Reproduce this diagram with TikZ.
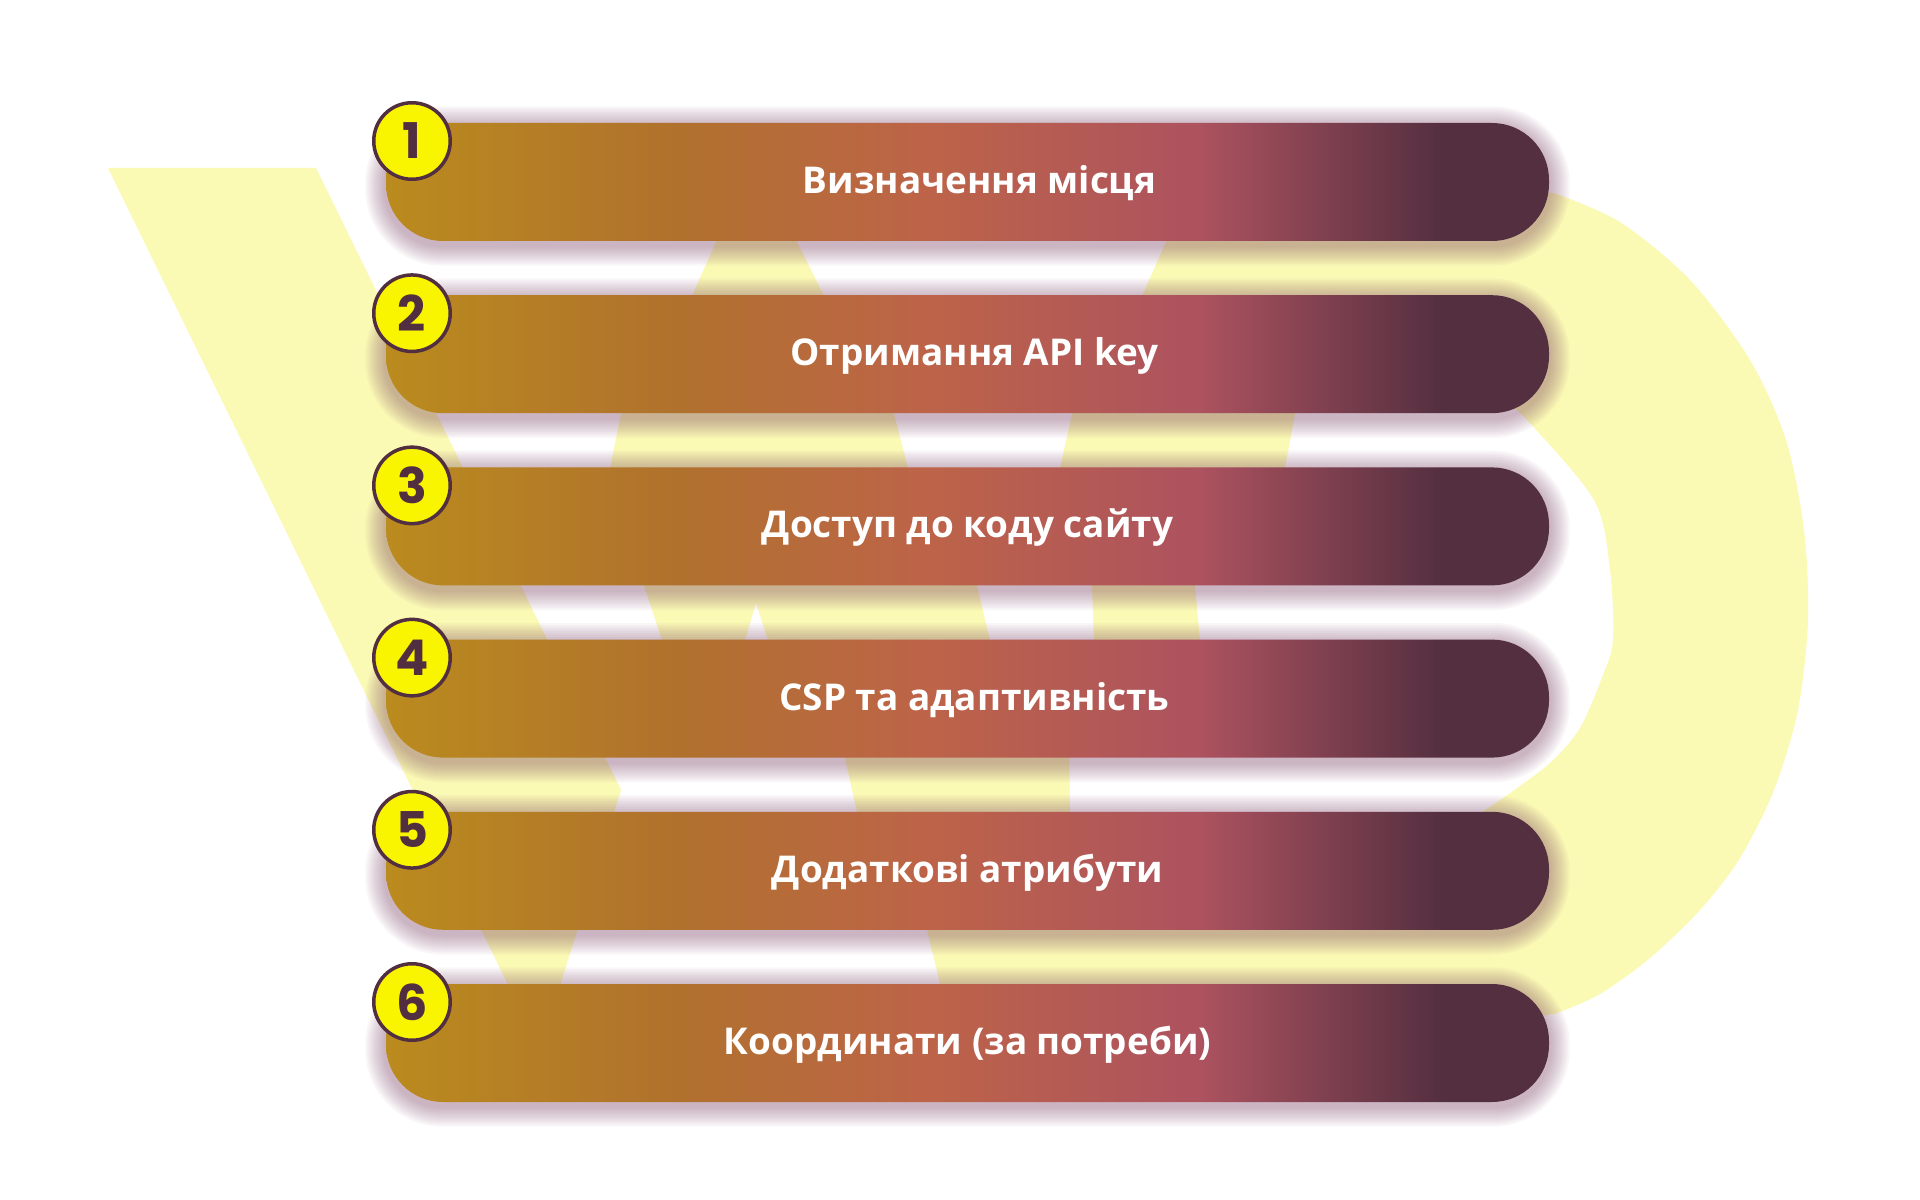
\documentclass[tikz,border=0pt]{standalone}
\usepackage{fontspec}
\setmainfont{Open Sans}
\newfontfamily\numfont{Poppins}

\definecolor{wmyellow}{RGB}{251,250,181}
\definecolor{ballfill}{RGB}{249,244,0}
\definecolor{plum}{RGB}{82,47,64}
\definecolor{glowc}{RGB}{120,60,95}
\definecolor{bc0}{RGB}{186,139,30}
\definecolor{bc1}{RGB}{176,113,45}
\definecolor{bc2}{RGB}{189,100,72}
\definecolor{bc3}{RGB}{173,82,95}
\definecolor{bc4}{RGB}{83,47,64}

\pgfdeclarehorizontalshading{barshade}{100bp}{color(0bp)=(bc0); color(25bp)=(bc0); color(37.5bp)=(bc1); color(48bp)=(bc2); color(60bp)=(bc3); color(70.5bp)=(bc4); color(75bp)=(bc4); color(100bp)=(bc4)}

\pgfdeclarelayer{wm}
\pgfdeclarelayer{glow}
\pgfsetlayers{wm,glow,main}

\tikzset{
  stepbar/.style={shade, shading=barshade, rounded corners=5.7mm, minimum width=116.3mm, minimum height=11.8mm, inner sep=0pt},
  steptext/.style={inner sep=0pt, text=white, text height=2.6mm, text depth=0pt, font=\fontsize{10.5pt}{13pt}\selectfont\bfseries},
  stepball/.style={circle, draw=plum, line width=0.35mm, fill=ballfill, minimum size=7.65mm, inner sep=0pt, text=plum, font=\numfont\fontsize{14pt}{16pt}\selectfont\bfseries}
}

\begin{document}
\begin{tikzpicture}[x=0.1mm, y=-0.1mm]
    \useasboundingbox (0,0) rectangle (1920,1200);

    % Steps
    \node[stepbar] (b1) at (967.5,182) {};
    \node[stepbar] (b2) at (967.5,354.2) {};
    \node[stepbar] (b3) at (967.5,526.4) {};
    \node[stepbar] (b4) at (967.5,698.6) {};
    \node[stepbar] (b5) at (967.5,870.8) {};
    \node[stepbar] (b6) at (967.5,1043) {};

    % Labels
    \node[steptext] (t1) at ([xshift=1.2mm,yshift=0.15mm]b1.center) {Визначення місця};
    \node[steptext] (t2) at ([xshift=0.7mm,yshift=0.15mm]b2.center) {Отримання API key};
    \node[steptext] (t3) at ([yshift=0.15mm]b3.center) {Доступ до коду сайту};
    \node[steptext] (t4) at ([xshift=0.7mm,yshift=0.15mm]b4.center) {CSP та адаптивність};
    \node[steptext] (t5) at ([yshift=0.15mm]b5.center) {Додаткові атрибути};
    \node[steptext] (t6) at ([yshift=0.15mm]b6.center) {Координати (за потреби)};

    % Numbers
    \node[stepball] (c1) at (412,141) {1};
    \node[stepball] (c2) at (412,313.2) {2};
    \node[stepball] (c3) at (412,485.4) {3};
    \node[stepball] (c4) at (412,657.6) {4};
    \node[stepball] (c5) at (412,829.8) {5};
    \node[stepball] (c6) at (412,1002) {6};

    % Soft glow under the bars
    \begin{pgfonlayer}{glow}
      \foreach \i in {1,...,6}{
        \foreach \g in {1,...,10}{
          \pgfmathsetmacro\rc{5.7+0.2*\g}
          \fill[glowc, opacity=0.042, rounded corners=\rc mm] ([shift={(-2*\g,2*\g+4)}]b\i.south west) rectangle ([shift={(2*\g,-2*\g+4)}]b\i.north east);
        }
      }
    \end{pgfonlayer}

    % Watermark
    \begin{pgfonlayer}{wm}
      \fill[white] (0,0) rectangle (1920,1200);
      \fill[wmyellow] (108,168) -- (316,168) -- (621,790) -- (540,1050) -- cycle;
      \fill[wmyellow] (735,200) -- (716,242) -- (692,296) -- (621,414) -- (610,468) -- (600,527) -- (644,586) -- (662,640) -- (845,758) -- (857,812) -- (880,870) -- (1075,870) -- (1070,812) -- (1069,758) -- (990,640) -- (977,586) -- (943,527) -- (908,468) -- (894,414) -- (824,296) -- (797,242) -- (775,200) -- cycle;
      \fill[wmyellow, even odd rule] (1180,193) -- plot[smooth] coordinates {(1554,193) (1620,222) (1690,280) (1750,360) (1786,440) (1804,530) (1808,620) (1798,710) (1774,790) (1740,858) (1700,910) (1650,958) (1600,994) (1555,1014)} -- (1520,1018) -- (955,1018) -- (940,984) -- (927,930) -- (912,870) -- (1000,758) -- (1094,640) -- (1092,586) -- (1076,527) -- (1060,468) -- (1072,414) -- (1142,296) -- (1166,242) -- cycle
        (1295,414) -- (1285,468) -- (1195,586) -- (1200,640) -- (1069,758) -- (1070,812) -- (1080,870) -- (1300,880) -- plot[smooth] coordinates {(1440,840) (1503,798) (1550,763) (1580,728) (1603,675) (1613,640) (1610,570) (1594,500) (1524,417) (1480,380)} -- (1320,370) -- cycle;
      \fill[white] (756,603) -- (768,641) -- (745,641) -- cycle;
    \end{pgfonlayer}
\end{tikzpicture}
\end{document}
